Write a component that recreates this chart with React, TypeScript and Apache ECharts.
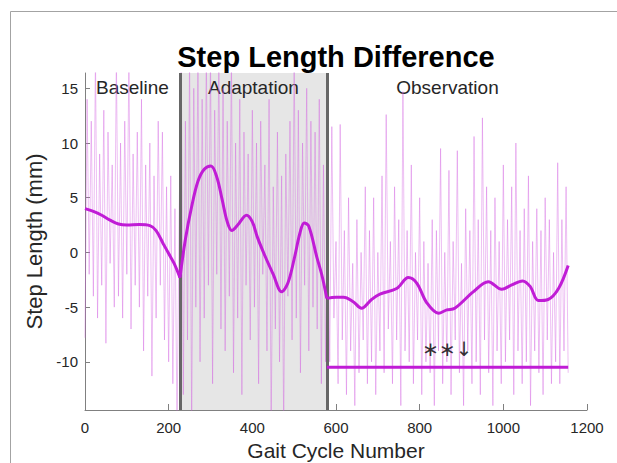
import React, { useEffect, useRef } from 'react';
import * as echarts from 'echarts';

const titleText = 'Step Length Difference';
const xAxisName = 'Gait Cycle Number';
const yAxisName = 'Step Length (mm)';
const phaseNames = ['Baseline', 'Adaptation', 'Observation'];
const phaseBounds = [0, 227, 578, 1155];
const xTicks = [0, 200, 400, 600, 800, 1000, 1200];
const yTicks = [-10, -5, 0, 5, 10, 15];

// raw step-length differences, one value every rawStep gait cycles
const rawStep = 5;
const rawBaseline = [
  -7.8, 14, -2, 12, -4, 18, -6, 9, -3, 13,
  -8.3, 11, -1, 8, -5, 18, -4, 10, -6, 12,
  -2, 18, -7, 9, -3, 11, -5, 14, -9, 8,
  -4, 10, -11.3, 7, -6, 12, -3, 11, -8, 6,
  -10, 7, -12, 4, -16, 3,
];
const rawAdaptation = [
  18, -13, 12, -8, 18, -16, 15, -5, 18, -10,
  14, -6, 18, -3, 18, -12, 13, -2, 18, -7,
  15, -9, 12, -4, 18, -11, 10, -6, 14, -13,
  11, -3, 9, -8, 13, -5, 10, -12, 12, -2,
  8, -9, 14, -16, 6, -7, 11, -10, 7, -16,
  9, -4, 12, -8, 18, -6, 13, -11, 10, -3,
  15, -9, 12, -5, 11, -7, 14, -12, 8, -10,
];
const rawObservation = [
  4, -10, 11.5, -6, 1, -12, 11.7, -8, 2, -13,
  5, -9, -1, -14, 3, -11, 0, -8, 6, -12,
  2, -10, 5, -13, 0, -9, 7, -11, 12.6, -7,
  1, -12, 6, -8, 3, -14, 14.7, -9, 2, -10,
  8, -12, 0, -8, 5, -13, 1, -10, -1, -11,
  3, -14, 2, -9, 9.5, -12, 0, -10, 7.5, -13,
  1, -8, 9.3, -11, -1, -14, 4, -9, 2, -12,
  10.6, -10, 3, -13, 12.3, -8, 6, -11, 2, -14,
  5, -9, 1, -12, 8, -10, 3, -8, 6, -13,
  10, -9, 2, -12, 4, -10, 7, -14, 1, -9,
  4, -11, 2, -13, 5, -8, 3, -12, 0, -10,
  8.2, -12, 3, -9, 6, -11,
];

// smoothed trend per phase
const baseCycles = [0, 20, 40, 60, 80, 100, 130, 155, 170, 187, 200, 213, 227];
const baseValues = [4.0, 3.75, 3.4, 2.95, 2.6, 2.5, 2.55, 2.45, 2.0, 0.8, -0.1, -1.0, -2.3];
const adaptCycles = [227, 240, 255, 270, 285, 301, 315, 328, 340, 351, 365, 386, 400, 412, 430, 450, 470, 485, 500, 514, 524, 535, 554, 567, 578];
const adaptValues = [-2.3, 1.2, 4.2, 6.5, 7.6, 7.9, 6.9, 4.8, 2.8, 2.0, 2.5, 3.4, 2.8, 1.4, -0.3, -2.0, -3.6, -2.8, -0.6, 1.8, 2.7, 2.4, -0.4, -2.2, -4.2];
const obsCycles = [578, 600, 618, 641, 661, 685, 705, 745, 773, 793, 817, 845, 865, 884, 928, 964, 996, 1020, 1046, 1064, 1084, 1107, 1132, 1155];
const obsValues = [-4.2, -4.1, -4.1, -4.5, -5.1, -4.3, -3.8, -3.3, -2.3, -2.8, -4.6, -5.55, -5.25, -5.1, -3.6, -2.67, -3.37, -2.97, -2.6, -3.1, -4.4, -4.3, -3.3, -1.2];

// significance bar
const sigCycles = [578, 1155];
const sigValues = [-10.5, -10.5];
const sigLabel = '∗∗↓';

const FONT = '"Liberation Sans", Arial, Helvetica, sans-serif';
const TXT = '#262626';
const PURPLE = '#c01cd6';

const zip = (xs: number[], ys: number[]) => xs.map((x, i) => [x, ys[i]]);

export default function App() {
  const ref = useRef<HTMLDivElement>(null);
  useEffect(() => {
    if (!ref.current) return;
    const chart = echarts.init(ref.current, undefined, { renderer: 'svg' });
    const raw = [...rawBaseline, ...rawAdaptation, ...rawObservation].map((v, i) => [i * rawStep, v]);
    const areaColors = ['rgba(0,0,0,0)', '#e6e6e6', 'rgba(0,0,0,0)'];
    const sigMid = (sigCycles[0] + sigCycles[1]) / 2;
    const smoothSeries = [
      zip(baseCycles, baseValues),
      zip(adaptCycles, adaptValues),
      zip(obsCycles, obsValues),
    ].map((d) => ({
      type: 'line',
      data: d,
      smooth: 0.35,
      showSymbol: false,
      symbol: 'none',
      lineStyle: { color: PURPLE, width: 3 },
      z: 6,
      silent: true,
    }));
    chart.setOption({
      animation: false,
      backgroundColor: '#ffffff',
      title: {
        text: titleText,
        left: 336,
        top: 42,
        textAlign: 'center',
        padding: 0,
        textStyle: { fontSize: 29, fontWeight: 'bold', color: '#000', fontFamily: FONT },
      },
      graphic: [
        { type: 'line', shape: { x1: 10.5, y1: 11.5, x2: 617, y2: 11.5 }, style: { stroke: '#a3a3a3', lineWidth: 1 }, silent: true },
        { type: 'line', shape: { x1: 10.5, y1: 11.5, x2: 10.5, y2: 463 }, style: { stroke: '#a3a3a3', lineWidth: 1 }, silent: true },
      ],
      grid: { left: 85, right: 30, top: 73, bottom: 53, containLabel: false, outerBoundsMode: 'none' },
      xAxis: {
        type: 'value',
        min: 0,
        max: 1200,
        interval: 200,
        name: xAxisName,
        nameLocation: 'middle',
        nameGap: 29,
        nameTextStyle: { fontSize: 21, color: TXT, fontFamily: FONT },
        axisLine: { show: true, onZero: false, lineStyle: { color: '#808080', width: 1 } },
        axisTick: { show: true, inside: true, length: 6, lineStyle: { color: '#808080' }, customValues: xTicks },
        axisLabel: {
          fontSize: 15,
          color: TXT,
          fontFamily: FONT,
          margin: 10,
          customValues: xTicks,
          formatter: (v: number) => String(v),
        },
        splitLine: { show: false },
      },
      yAxis: {
        type: 'value',
        min: -14.4,
        max: 16.4,
        name: yAxisName,
        nameLocation: 'middle',
        nameGap: 28,
        nameTextStyle: { fontSize: 22, color: TXT, fontFamily: FONT },
        axisLine: { show: true, onZero: false, lineStyle: { color: '#808080', width: 1 } },
        axisTick: { show: true, inside: true, length: 5, lineStyle: { color: '#808080' }, customValues: yTicks },
        axisLabel: {
          fontSize: 15,
          color: TXT,
          fontFamily: FONT,
          margin: 7,
          customValues: yTicks,
          formatter: (v: number) => String(v),
        },
        splitLine: { show: false },
      },
      series: [
        {
          type: 'line',
          data: raw,
          showSymbol: false,
          symbol: 'none',
          lineStyle: { color: 'rgba(210,95,225,0.4)', width: 1 },
          z: 2,
          silent: true,
          markArea: {
            silent: true,
            data: phaseNames.map((name, i) => [
              {
                name,
                xAxis: phaseBounds[i],
                itemStyle: { color: areaColors[i] },
                label: {
                  show: true,
                  position: 'insideTop',
                  distance: 5,
                  color: TXT,
                  fontSize: 19,
                  fontFamily: FONT,
                },
              },
              { xAxis: phaseBounds[i + 1] },
            ]),
          },
          markLine: {
            silent: true,
            symbol: 'none',
            label: { show: false },
            lineStyle: { color: '#666666', width: 3, type: 'solid' },
            data: [{ xAxis: phaseBounds[1] }, { xAxis: phaseBounds[2] }],
          },
        },
        ...smoothSeries,
        {
          type: 'line',
          data: zip(sigCycles, sigValues),
          showSymbol: false,
          symbol: 'none',
          lineStyle: { color: PURPLE, width: 3 },
          z: 6,
          silent: true,
        },
        {
          type: 'scatter',
          data: [[sigMid, sigValues[0]]],
          symbolSize: 0,
          silent: true,
          z: 7,
          label: {
            show: true,
            position: 'top',
            distance: 8,
            formatter: sigLabel,
            color: '#000',
            fontSize: 20,
            fontFamily: '"DejaVu Sans", sans-serif',
          },
        },
      ],
    });
    return () => chart.dispose();
  }, []);
  return (
    <div
      ref={ref}
      style={{ position: 'absolute', left: 0, top: 0, width: 617, height: 463, background: '#fff' }}
    />
  );
}
